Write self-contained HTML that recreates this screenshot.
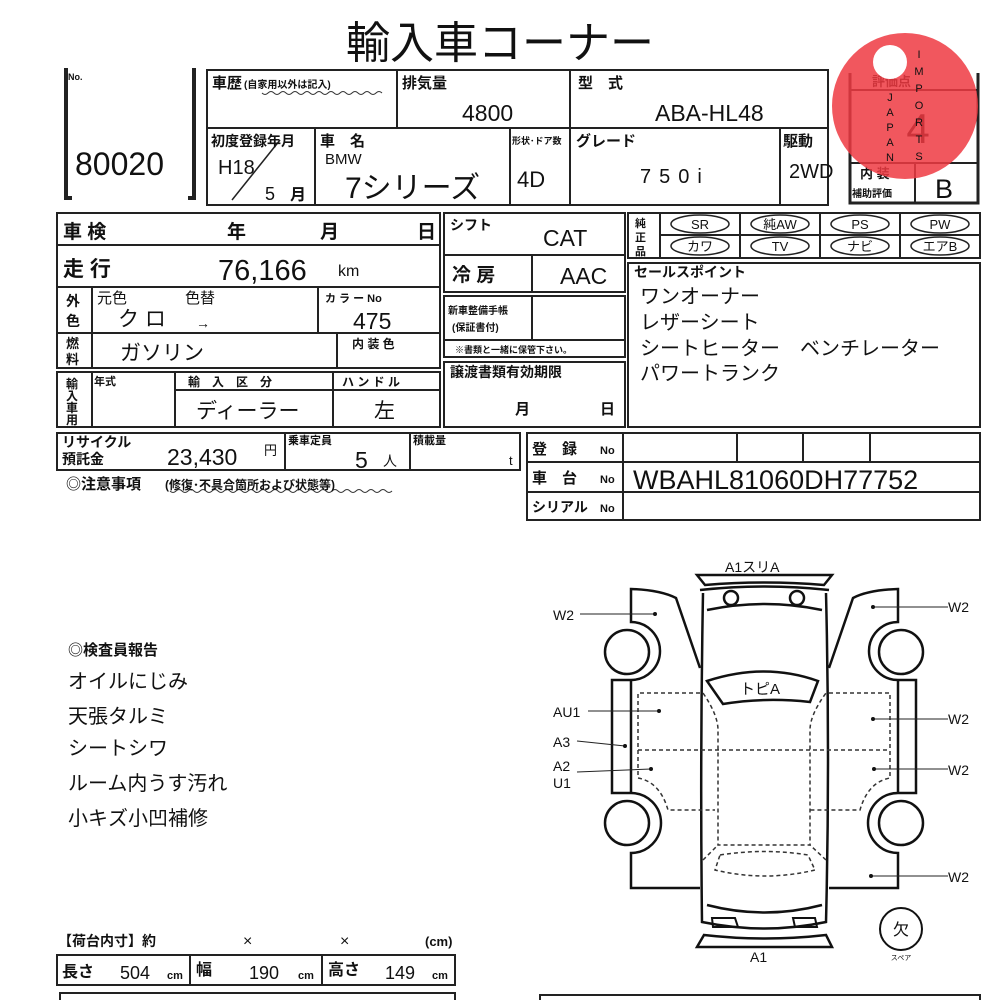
<!DOCTYPE html>
<html><head><meta charset="utf-8"><style>
html,body{margin:0;padding:0;background:#fff}
svg{display:block}
text{font-family:"Liberation Sans","Noto Sans CJK JP",sans-serif;fill:#111}
.b{font-weight:bold}
</style></head><body>
<svg width="1000" height="1000" viewBox="0 0 1000 1000" xmlns="http://www.w3.org/2000/svg">
<g stroke="#222" stroke-width="2" fill="none">
<path d="M66 68 V198 H72" stroke-width="4"/>
<path d="M188 198 H194 V68" stroke-width="4"/>
<rect x="207" y="70" width="621" height="135"/>
<line x1="207" y1="128" x2="828" y2="128"/>
<line x1="397" y1="70" x2="397" y2="128"/>
<line x1="570" y1="70" x2="570" y2="205"/>
<line x1="315" y1="128" x2="315" y2="205"/>
<line x1="510" y1="128" x2="510" y2="205"/>
<line x1="780" y1="128" x2="780" y2="205"/>
<line x1="232" y1="200" x2="280" y2="140" stroke-width="1.5"/>
<path d="M850 73 V203 H978 V73" stroke-width="3"/>
<line x1="850" y1="90" x2="978" y2="90"/>
<line x1="850" y1="163" x2="978" y2="163"/>
<line x1="915" y1="163" x2="915" y2="203"/>
<rect x="57" y="213" width="383" height="32"/>
<rect x="57" y="245" width="383" height="42"/>
<rect x="57" y="287" width="383" height="46"/>
<line x1="92" y1="287" x2="92" y2="368"/>
<line x1="318" y1="287" x2="318" y2="333"/>
<rect x="57" y="333" width="383" height="35"/>
<line x1="337" y1="333" x2="337" y2="368"/>
<rect x="57" y="372" width="383" height="55"/>
<line x1="92" y1="372" x2="92" y2="427"/>
<line x1="175" y1="372" x2="175" y2="427"/>
<line x1="333" y1="372" x2="333" y2="427"/>
<line x1="175" y1="390" x2="440" y2="390"/>
<rect x="57" y="433" width="463" height="37"/>
<line x1="285" y1="433" x2="285" y2="470"/>
<line x1="410" y1="433" x2="410" y2="470"/>
<rect x="444" y="213" width="181" height="42"/>
<rect x="444" y="255" width="181" height="37"/>
<line x1="532" y1="255" x2="532" y2="292"/>
<rect x="444" y="296" width="181" height="44"/>
<line x1="532" y1="296" x2="532" y2="340"/>
<rect x="444" y="340" width="181" height="17"/>
<rect x="444" y="362" width="181" height="65"/>
<rect x="628" y="213" width="352" height="45"/>
<line x1="660" y1="235" x2="980" y2="235"/>
<line x1="660" y1="213" x2="660" y2="258"/>
<line x1="740" y1="213" x2="740" y2="258"/>
<line x1="820" y1="213" x2="820" y2="258"/>
<line x1="900" y1="213" x2="900" y2="258"/>
<g stroke-width="1.5">
<ellipse cx="700" cy="224" rx="29" ry="9"/><ellipse cx="780" cy="224" rx="29" ry="9"/>
<ellipse cx="860" cy="224" rx="29" ry="9"/><ellipse cx="940" cy="224" rx="29" ry="9"/>
<ellipse cx="700" cy="246" rx="29" ry="9"/><ellipse cx="780" cy="246" rx="29" ry="9"/>
<ellipse cx="860" cy="246" rx="29" ry="9"/><ellipse cx="940" cy="246" rx="29" ry="9"/>
</g>
<rect x="628" y="263" width="352" height="164"/>
<rect x="527" y="433" width="453" height="87"/>
<line x1="527" y1="462" x2="980" y2="462"/>
<line x1="527" y1="492" x2="980" y2="492"/>
<line x1="623" y1="433" x2="623" y2="520"/>
<line x1="737" y1="433" x2="737" y2="462"/>
<line x1="803" y1="433" x2="803" y2="462"/>
<line x1="870" y1="433" x2="870" y2="462"/>
<rect x="57" y="955" width="398" height="30"/>
<line x1="190" y1="955" x2="190" y2="985"/>
<line x1="322" y1="955" x2="322" y2="985"/>
<path d="M60 1002 V993 H455 V1002"/>
<path d="M540 1002 V995 H980 V1002"/>
</g>
<path d="M262 93 q3 3 6 0 t6 0 t6 0 t6 0 t6 0 t6 0 t6 0 t6 0 t6 0 t6 0 t6 0 t6 0 t6 0 t6 0 t6 0 t6 0 t6 0 t6 0 t6 0 t6 0 " stroke="#333" fill="none" stroke-width="1"/>
<path d="M170 491 q3 3 6 0 t6 0 t6 0 t6 0 t6 0 t6 0 t6 0 t6 0 t6 0 t6 0 t6 0 t6 0 t6 0 t6 0 t6 0 t6 0 t6 0 t6 0 t6 0 t6 0 t6 0 t6 0 t6 0 t6 0 t6 0 t6 0 t6 0 t6 0 t6 0 t6 0 t6 0 t6 0 t6 0 t6 0 t6 0 t6 0 t6 0" stroke="#333" fill="none" stroke-width="1"/>

<text x="500" y="58" font-size="44" text-anchor="middle">輸入車コーナー</text>
<text x="68" y="80" font-size="9" class="b">No.</text>
<text x="75" y="175" font-size="32">80020</text>
<text x="212" y="88" font-size="15" class="b">車歴</text>
<text x="244" y="88" font-size="10" class="b">(自家用以外は記入)</text>
<text x="402" y="88" font-size="15" class="b">排気量</text>
<text x="462" y="121" font-size="23">4800</text>
<text x="578" y="88" font-size="15" class="b">型　式</text>
<text x="655" y="121" font-size="23">ABA-HL48</text>
<text x="211" y="146" font-size="14" class="b">初度登録年月</text>
<text x="218" y="174" font-size="20">H18</text>
<text x="265" y="200" font-size="18">5</text>
<text x="290" y="200" font-size="16" class="b">月</text>
<text x="320" y="146" font-size="15" class="b">車　名</text>
<text x="325" y="164" font-size="15">BMW</text>
<text x="345" y="198" font-size="30">7シリーズ</text>
<text x="512" y="144" font-size="9" class="b">形状･ドア数</text>
<text x="517" y="187" font-size="22">4D</text>
<text x="576" y="146" font-size="15" class="b">グレード</text>
<text x="640" y="183" font-size="20" letter-spacing="8">750i</text>
<text x="783" y="146" font-size="15" class="b">駆動</text>
<text x="789" y="178" font-size="20">2WD</text>
<text x="872" y="86" font-size="13" class="b" fill="#333">評価点</text>
<text x="918" y="143" font-size="42" text-anchor="middle" fill="#333">4</text>
<text x="860" y="178" font-size="13" class="b">内 装</text>
<text x="852" y="197" font-size="10" class="b">補助評価</text>
<text x="935" y="198" font-size="27">B</text>

<text x="63" y="238" font-size="19" class="b">車 検</text>
<text x="227" y="238" font-size="19" class="b">年</text>
<text x="320" y="238" font-size="19" class="b">月</text>
<text x="417" y="238" font-size="19" class="b">日</text>
<text x="63" y="276" font-size="21" class="b">走 行</text>
<text x="218" y="280" font-size="29">76,166</text>
<text x="338" y="276" font-size="16">km</text>
<text x="66" y="306" font-size="14" class="b">外</text>
<text x="66" y="326" font-size="14" class="b">色</text>
<text x="97" y="303" font-size="15">元色</text>
<text x="185" y="303" font-size="15">色替</text>
<text x="118" y="326" font-size="21">ク ロ</text>
<text x="196" y="328" font-size="14">→</text>
<text x="325" y="302" font-size="11" class="b">カ ラ ー No</text>
<text x="353" y="329" font-size="23">475</text>
<text x="66" y="348" font-size="13" class="b">燃</text>
<text x="66" y="364" font-size="13" class="b">料</text>
<text x="120" y="360" font-size="21">ガソリン</text>
<text x="352" y="348" font-size="12" class="b">内 装 色</text>
<text x="66" y="388" font-size="12" class="b">輸</text>
<text x="66" y="400" font-size="12" class="b">入</text>
<text x="66" y="412" font-size="12" class="b">車</text>
<text x="66" y="424" font-size="12" class="b">用</text>
<text x="94" y="385" font-size="11" class="b">年式</text>
<text x="188" y="386" font-size="12" class="b">輸　入　区　分</text>
<text x="342" y="386" font-size="12" class="b">ハ ン ド ル</text>
<text x="196" y="418" font-size="21">ディーラー</text>
<text x="374" y="418" font-size="21">左</text>
<text x="62" y="447" font-size="14" class="b">リサイクル</text>
<text x="62" y="464" font-size="14" class="b">預託金</text>
<text x="167" y="465" font-size="23">23,430</text>
<text x="264" y="455" font-size="13">円</text>
<text x="288" y="444" font-size="11" class="b">乗車定員</text>
<text x="355" y="468" font-size="23">5</text>
<text x="383" y="466" font-size="14">人</text>
<text x="413" y="444" font-size="11" class="b">積載量</text>
<text x="509" y="465" font-size="13">t</text>
<text x="66" y="489" font-size="15" class="b">◎注意事項</text>
<text x="165" y="489" font-size="12" class="b">(修復･不具合箇所および状態等)</text>

<text x="450" y="230" font-size="14" class="b">シフト</text>
<text x="543" y="246" font-size="23">CAT</text>
<text x="452" y="281" font-size="19" class="b">冷 房</text>
<text x="560" y="284" font-size="23">AAC</text>
<text x="448" y="314" font-size="10" class="b">新車整備手帳</text>
<text x="452" y="331" font-size="10" class="b">(保証書付)</text>
<text x="455" y="353" font-size="9" class="b">※書類と一緒に保管下さい。</text>
<text x="450" y="377" font-size="14" class="b">譲渡書類有効期限</text>
<text x="515" y="414" font-size="15" class="b">月</text>
<text x="600" y="414" font-size="15" class="b">日</text>

<text x="635" y="227" font-size="11" class="b">純</text>
<text x="635" y="241" font-size="11" class="b">正</text>
<text x="635" y="255" font-size="11" class="b">品</text>
<g font-size="13" text-anchor="middle">
<text x="700" y="229">SR</text><text x="780" y="229">純AW</text><text x="860" y="229">PS</text><text x="940" y="229">PW</text>
<text x="700" y="251">カワ</text><text x="780" y="251">TV</text><text x="860" y="251">ナビ</text><text x="940" y="251">エアB</text>
</g>
<text x="634" y="277" font-size="14" class="b">セールスポイント</text>
<text x="640" y="303" font-size="20">ワンオーナー</text>
<text x="640" y="329" font-size="20">レザーシート</text>
<text x="640" y="355" font-size="20">シートヒーター　ベンチレーター</text>
<text x="640" y="380" font-size="20">パワートランク</text>

<text x="532" y="454" font-size="15" class="b">登　録</text>
<text x="600" y="454" font-size="11" class="b">No</text>
<text x="532" y="483" font-size="15" class="b">車　台</text>
<text x="600" y="483" font-size="11" class="b">No</text>
<text x="532" y="512" font-size="14" class="b">シリアル</text>
<text x="600" y="512" font-size="11" class="b">No</text>
<text x="633" y="489" font-size="27">WBAHL81060DH77752</text>

<text x="68" y="655" font-size="15" class="b">◎検査員報告</text>
<g font-size="20">
<text x="68" y="688">オイルにじみ</text>
<text x="68" y="723">天張タルミ</text>
<text x="68" y="755">シートシワ</text>
<text x="68" y="790">ルーム内うす汚れ</text>
<text x="68" y="825">小キズ小凹補修</text>
</g>

<text x="58" y="946" font-size="14" class="b">【荷台内寸】約</text>
<text x="243" y="946" font-size="16">×</text>
<text x="340" y="946" font-size="16">×</text>
<text x="425" y="946" font-size="13" class="b">(cm)</text>
<text x="62" y="977" font-size="16" class="b">長さ</text>
<text x="120" y="979" font-size="18">504</text>
<text x="167" y="979" font-size="11" class="b">cm</text>
<text x="196" y="975" font-size="16" class="b">幅</text>
<text x="249" y="979" font-size="18">190</text>
<text x="298" y="979" font-size="11" class="b">cm</text>
<text x="328" y="975" font-size="16" class="b">高さ</text>
<text x="385" y="979" font-size="18">149</text>
<text x="432" y="979" font-size="11" class="b">cm</text>

<g stroke="#111" stroke-width="2.5" fill="none">
<path d="M697 575 H832 L824 585 Q765 580 705 585 Z"/>
<path d="M700 590 Q765 583 829 590"/>
<path d="M703 593 Q700 760 702 922 Q765 935 826 922 Q830 760 826 593"/>
<path d="M707 610 Q765 598 822 610"/>
<circle cx="731" cy="598" r="7"/><circle cx="797" cy="598" r="7"/>
<path d="M707 905 Q765 920 822 905"/>
<path d="M697 947 H832 L826 935 Q765 942 704 935 Z"/>
<path d="M712 918 H735 L738 927 H713 Z" stroke-width="2"/>
<path d="M795 927 H817 L815 918 H793 Z" stroke-width="2"/>
<path d="M707 681 Q765 662 818 681 L810 702 Q765 697 723 704 Z"/>
<path d="M700 668 L676 598 Q660 590 631 589 V622 A29 29 0 0 1 631 680 H612 V793 H631 A29 29 0 0 1 631 853 V888 H700"/>
<circle cx="627" cy="652" r="22"/><circle cx="627" cy="823" r="22"/>
<path d="M631 680 V793"/>
<path d="M829 668 L853 598 Q868 590 898 589 V622 A29 29 0 0 0 898 680 H916 V793 H898 A29 29 0 0 0 898 853 V888 H829"/>
<circle cx="901" cy="652" r="22"/><circle cx="901" cy="823" r="22"/>
<path d="M898 680 V793"/>
</g>
<g stroke="#333" stroke-width="1.5" fill="none" stroke-dasharray="4 3">
<path d="M700 693 H638 V778 Q660 782 668 810 H715"/>
<path d="M638 750 H890"/>
<path d="M829 693 H890 V778 Q868 782 860 810 H810"/>
<path d="M703 693 Q718 715 718 730 V845 H810 V730 Q810 715 826 693"/>
<path d="M703 860 L718 845 M826 860 L810 845"/>
<path d="M720 855 Q765 848 808 855 L815 870 Q765 882 715 870 Z"/>
</g>
<g stroke="#222" stroke-width="1" fill="none">
<line x1="580" y1="614" x2="655" y2="614"/>
<line x1="588" y1="711" x2="659" y2="711"/>
<line x1="577" y1="741" x2="625" y2="746"/>
<line x1="577" y1="772" x2="651" y2="769"/>
<line x1="873" y1="607" x2="948" y2="607"/>
<line x1="873" y1="719" x2="948" y2="719"/>
<line x1="874" y1="769" x2="948" y2="769"/>
<line x1="871" y1="876" x2="948" y2="876"/>
</g>
<g fill="#111"><circle cx="655" cy="614" r="2"/><circle cx="659" cy="711" r="2"/><circle cx="625" cy="746" r="2"/><circle cx="651" cy="769" r="2"/><circle cx="873" cy="607" r="2"/><circle cx="873" cy="719" r="2"/><circle cx="874" cy="769" r="2"/><circle cx="871" cy="876" r="2"/></g>
<g font-size="14">
<text x="553" y="620">W2</text>
<text x="553" y="717">AU1</text>
<text x="553" y="747">A3</text>
<text x="553" y="771">A2</text>
<text x="553" y="788">U1</text>
<text x="948" y="612">W2</text>
<text x="948" y="724">W2</text>
<text x="948" y="775">W2</text>
<text x="948" y="882">W2</text>
<text x="725" y="572">A1スリA</text>
<text x="750" y="962">A1</text>
<text x="740" y="694" font-size="15">トピA</text>
</g>
<circle cx="901" cy="929" r="21" stroke="#111" stroke-width="2" fill="none"/>
<text x="901" y="935" font-size="16" text-anchor="middle">欠</text>
<text x="901" y="960" font-size="7" text-anchor="middle">スペア</text>

<circle cx="905" cy="106" r="73" fill="#ee3a42" fill-opacity="0.85"/>
<circle cx="890" cy="62" r="17" fill="#fff"/>
<g fill="#fff" font-size="11" text-anchor="middle">
<text x="890" y="101">J</text><text x="890" y="116">A</text><text x="890" y="131">P</text><text x="890" y="146">A</text><text x="890" y="161">N</text>
<text x="919" y="58">I</text><text x="919" y="75">M</text><text x="919" y="92">P</text><text x="919" y="109">O</text><text x="919" y="126">R</text><text x="919" y="143">T</text><text x="919" y="160">S</text>
</g>
</svg>
</body></html>
